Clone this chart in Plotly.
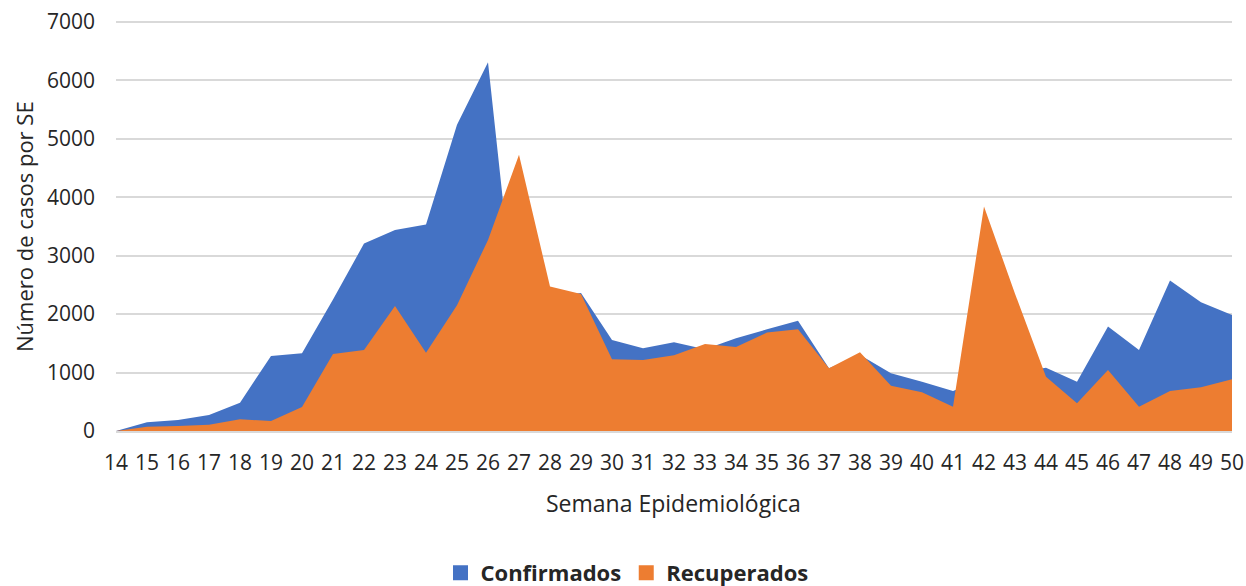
import plotly.graph_objects as go

semanas = list(range(14, 51))
confirmados = [0, 150, 190, 275, 485, 1285, 1330, 2250, 3208, 3442, 3533, 5240, 6313,
               1400, 2300, 2360, 1558, 1416, 1518, 1400, 1587, 1740, 1889, 1073, 1300,
               987, 845, 685, 900, 1000, 1084, 845, 1787, 1387, 2574, 2203, 1986]
recuperados = [0, 74, 85, 108, 200, 171, 411, 1318, 1387, 2140, 1341, 2152, 3270,
               4726, 2471, 2346, 1227, 1216, 1296, 1490, 1438, 1684, 1741, 1073, 1347,
               776, 662, 417, 3841, 2350, 930, 474, 1045, 417, 685, 748, 885]
y_ticks = [0, 1000, 2000, 3000, 4000, 5000, 6000, 7000]

FONT = "Open Sans"
TXT = "#262626"
AZUL = "#4472C4"
NARANJA = "#ED7D31"

fig = go.Figure()
fig.add_trace(go.Scatter(x=semanas, y=confirmados, name="Confirmados", mode="none",
                         fill="tozeroy", fillcolor=AZUL, showlegend=False,
                         hoverinfo="skip"))
fig.add_trace(go.Scatter(x=semanas, y=recuperados, name="Recuperados", mode="none",
                         fill="tozeroy", fillcolor=NARANJA, showlegend=False,
                         hoverinfo="skip"))
# legend entries (square swatches)
fig.add_trace(go.Scatter(x=[None], y=[None], name="Confirmados", mode="markers",
                         marker=dict(symbol="square", size=15, color=AZUL)))
fig.add_trace(go.Scatter(x=[None], y=[None], name="Recuperados", mode="markers",
                         marker=dict(symbol="square", size=15, color=NARANJA)))

W, H = 1246, 586
PL, PR, PT, PB = 116, 1232, 20, 431          # plot area in page pixels
L, T, R, B = PL, PT, W - PR, H - PB
pw, ph = W - L - R, H - T - B
YMAX = 7000 * (PB - PT) / (PB - 22)          # so that 7000 sits at y=22

def px(pix):
    return (pix - L) / pw

def py(pix):
    return (PB - pix) / ph

fig.update_layout(
    width=W, height=H,
    margin=dict(l=L, r=R, t=T, b=B, autoexpand=False),
    paper_bgcolor="white", plot_bgcolor="white",
    font=dict(family=FONT, size=21, color=TXT),
    showlegend=True,
    legend=dict(orientation="h", x=px(627), xanchor="center",
                y=py(573), yanchor="middle",
                font=dict(family=FONT, size=22, color=TXT, weight="bold"),
                itemwidth=30, traceorder="normal", bgcolor="rgba(0,0,0,0)"),
    annotations=[
        dict(text="Semana Epidemiológica", xref="paper", yref="paper",
             x=px(673), y=py(503), xanchor="center", yanchor="middle",
             showarrow=False, font=dict(family=FONT, size=23, color=TXT)),
        dict(text="Número de casos por SE", xref="paper", yref="paper",
             x=px(24), y=py(227), xanchor="center", yanchor="middle",
             textangle=-90, showarrow=False, font=dict(family=FONT, size=22, color=TXT)),
    ],
)
fig.update_xaxes(range=[14, 50], tickmode="array", tickvals=semanas,
                 ticktext=[str(s) for s in semanas], showgrid=False,
                 showline=True, linecolor="#d9d9d9", linewidth=1.5,
                 ticks="", ticklabelstandoff=12, zeroline=False, automargin=False,
                 ticklabeloverflow="allow", tickfont=dict(size=21, color=TXT))
fig.update_yaxes(range=[0, YMAX], tickvals=y_ticks,
                 showgrid=True, gridcolor="#d9d9d9", gridwidth=1.5, zeroline=False,
                 ticks="", ticklabelstandoff=20, automargin=False,
                 ticklabeloverflow="allow", tickfont=dict(size=21, color=TXT))

fig.write_html("out.html",
               config={"displayModeBar": False},
               post_script="document.body.style.margin='0';"
                           "document.documentElement.style.overflow='hidden';"
                           "document.body.style.overflow='hidden';")
